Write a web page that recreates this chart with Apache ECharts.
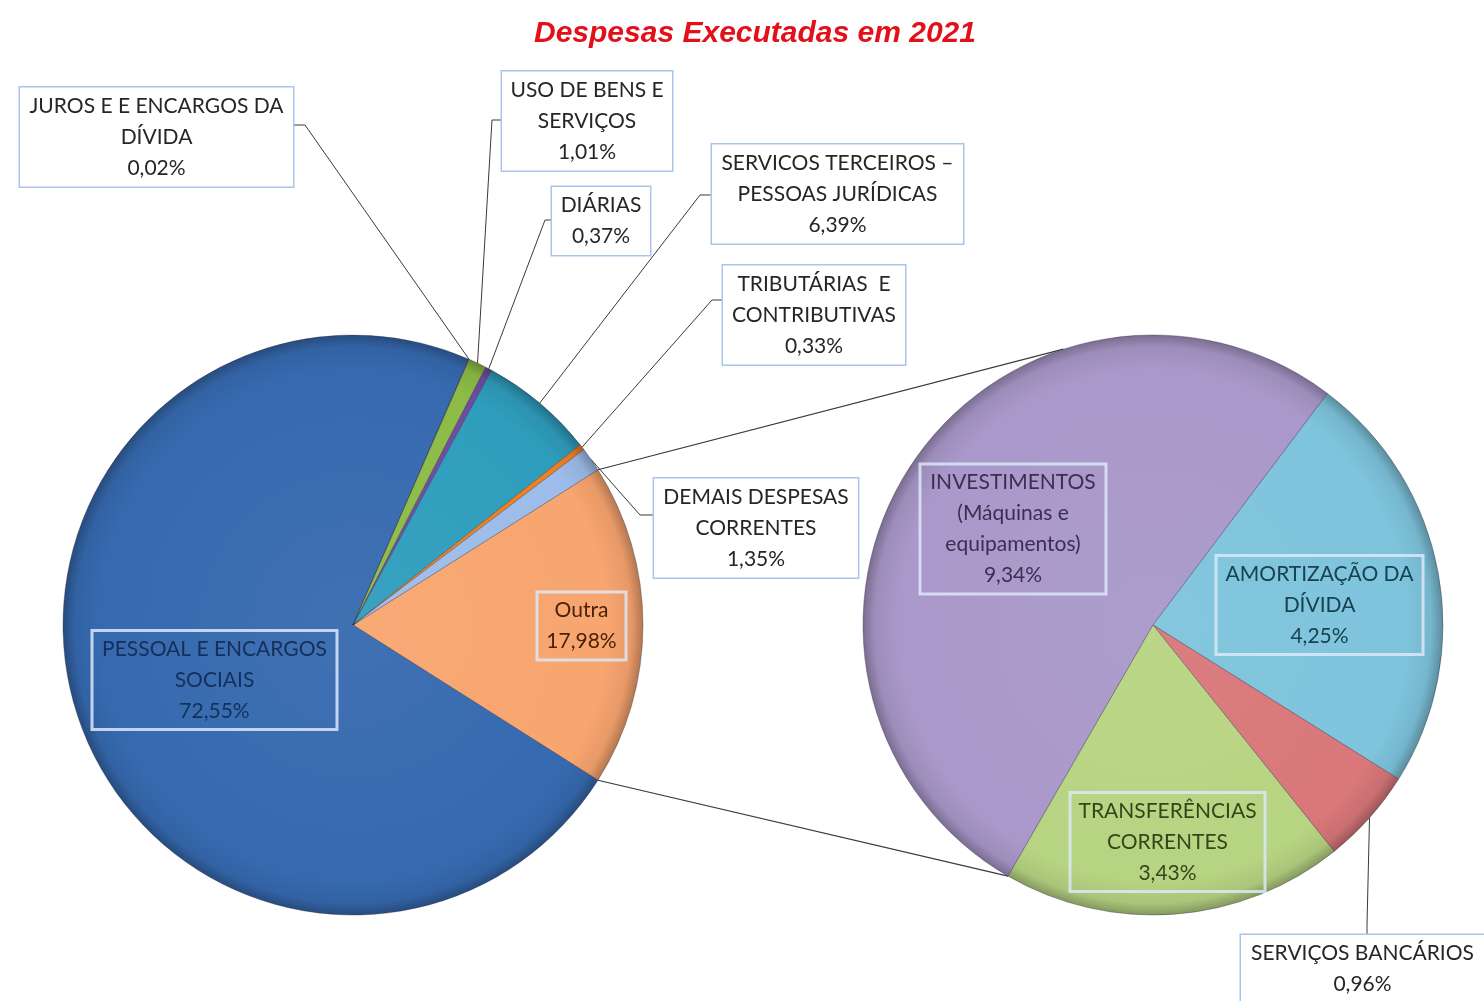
<!DOCTYPE html>
<html>
<head>
<meta charset="utf-8">
<title>Despesas Executadas em 2021</title>
<script src="https://cdn.jsdelivr.net/npm/echarts@6/dist/echarts.min.js"></script>
<style>
html, body { margin: 0; padding: 0; background: #fff; }
#main { width: 1484px; height: 1001px; }
</style>
</head>
<body>
<div id="main"></div>
<script>
// dados (% do total executado)
var leftNames = ['Outra', 'PESSOAL E ENCARGOS\nSOCIAIS', 'JUROS E E ENCARGOS DA\nDÍVIDA', 'USO DE BENS E\nSERVIÇOS',
    'DIÁRIAS', 'SERVICOS TERCEIROS –\nPESSOAS JURÍDICAS', 'TRIBUTÁRIAS  E\nCONTRIBUTIVAS', 'DEMAIS DESPESAS\nCORRENTES'];
var leftValues = [17.98, 72.55, 0.02, 1.01, 0.37, 6.39, 0.33, 1.35];

// detalhamento de "Outra"
var rightNames = ['INVESTIMENTOS\n(Máquinas e\nequipamentos)', 'AMORTIZAÇÃO DA\nDÍVIDA', 'SERVIÇOS BANCÁRIOS', 'TRANSFERÊNCIAS\nCORRENTES'];
var rightValues = [9.34, 4.25, 0.96, 3.43];

var leftColors = ['#f8a56f', '#3669af', '#c0504d', '#8cbc46', '#6e4c9f', '#2f9dbd', '#f07f1d', '#9dbce9'];
var rightColors = ['#a998c9', '#7ec4dc', '#d9777a', '#b7d482'];

var LEFT_C = [353, 625], RIGHT_C = [1153, 625], R = 290;
var PADX = 6, PADY = 3, TEXT_DY = 2;

// caixas dos rótulos: [esq, topo, larg, alt], linha guia: [x, y da caixa, x, y do cotovelo]
var leftBoxes = [
    {box: [537, 593, 89, 66], text: '#4a2208', inside: true},
    {box: [92, 630, 245, 100], text: '#14305a', inside: true},
    {box: [20, 87, 273, 100], lead: [293, 125, 305, 125]},
    {box: [502, 72, 170, 98], lead: [502, 120, 492, 120]},
    {box: [552, 187, 98, 68], lead: [552, 220, 545, 220]},
    {box: [712, 145, 251, 98], lead: [712, 195, 700, 195]},
    {box: [723, 265, 182, 100], lead: [723, 300, 712, 300]},
    {box: [654, 478, 204, 100], lead: [654, 515, 640, 515]}
];
var rightBoxes = [
    {box: [920, 464, 186, 130], text: '#3a2f52', inside: true},
    {box: [1216, 555, 207, 100], text: '#17424f', inside: true},
    {box: [1241, 935, 243, 68], lead: [1367, 935, 1367, 925]},
    {box: [1070, 793, 195, 98], text: '#33461a', inside: true}
];

function sum(a) {
    var s = 0;
    a.forEach(function (v) { s += v; });
    return s;
}
// "Outra" centrada no eixo horizontal
var leftStart = leftValues[0] / sum(leftValues) * 360 / 2;
var rightStart = 53 + rightValues[0] / sum(rightValues) * 360;

function midAngles(values, start) {
    var t = sum(values), a = start, out = [];
    values.forEach(function (v) {
        var s = v / t * 360;
        out.push(a - s / 2);
        a -= s;
    });
    return out;
}
function edgePoint(c, ang, r) {
    var rad = ang * Math.PI / 180;
    return [c[0] + r * Math.cos(rad), c[1] - r * Math.sin(rad)];
}
function shade(hex, f) {
    var n = parseInt(hex.slice(1), 16);
    var rgb = [(n >> 16) & 255, (n >> 8) & 255, n & 255].map(function (v) {
        v = f > 1 ? v + (255 - v) * (f - 1) : v * f;
        return Math.max(0, Math.min(255, Math.round(v)));
    });
    return 'rgb(' + rgb.join(',') + ')';
}
function fill(c, hex) {
    return {
        type: 'radial', x: c[0], y: c[1], r: R, global: true,
        colorStops: [
            {offset: 0, color: shade(hex, 1.05)},
            {offset: 0.88, color: hex},
            {offset: 0.96, color: shade(hex, 0.93)},
            {offset: 1, color: shade(hex, 0.72)}
        ]
    };
}
function pct(v) {
    return v.toFixed(2).replace('.', ',') + '%';
}

function buildData(names, values, colors, boxes, c) {
    return values.map(function (v, i) {
        var b = boxes[i];
        return {
            name: names[i],
            value: v,
            itemStyle: {color: fill(c, colors[i])},
            label: b.inside ? {
                color: b.text,
                backgroundColor: 'transparent',
                borderColor: 'rgba(220,232,248,0.85)'
            } : {},
            labelLine: {show: !b.inside}
        };
    });
}

function layoutFor(boxes, c, mids) {
    return function (p) {
        var b = boxes[p.dataIndex];
        var res = {
            x: b.box[0] + b.box[2] / 2,
            y: b.box[1] + b.box[3] / 2,
            align: 'center',
            verticalAlign: 'middle',
            width: b.box[2] - 2 * PADX
        };
        if (b.lead) {
            res.labelLinePoints = [edgePoint(c, mids[p.dataIndex], R), [b.lead[2], b.lead[3]], [b.lead[0], b.lead[1]]];
        }
        return res;
    };
}

var labelBase = {
    show: true,
    position: 'outside',
    formatter: function (p) { return p.name + '\n' + pct(p.value); },
    fontFamily: 'Lato',
    fontSize: 21,
    lineHeight: 31,
    color: '#262626',
    align: 'center',
    // texto um pouco abaixo do centro da caixa
    padding: [PADY + TEXT_DY, PADX, PADY - TEXT_DY, PADX],
    backgroundColor: '#fff',
    borderColor: '#a9c5ec',
    borderWidth: 1.5,
    overflow: 'none'
};

var leftMids = midAngles(leftValues, leftStart);
var rightMids = midAngles(rightValues, rightStart);

// linhas de ligação entre as pizzas
var topFrom = edgePoint(LEFT_C, leftStart, R);
var botFrom = edgePoint(LEFT_C, -leftStart, R);
var topTo = edgePoint(RIGHT_C, 108, R);
var botTo = edgePoint(RIGHT_C, rightStart, R);

var myChart = echarts.init(document.getElementById('main'));
var option = {
    animation: false,
    backgroundColor: '#fff',
    title: {
        text: 'Despesas Executadas em 2021',
        left: 529,
        top: 14,
        textStyle: {
            color: '#e3101a',
            fontFamily: 'Liberation Sans',
            fontStyle: 'italic',
            fontWeight: 'bold',
            fontSize: 30
        }
    },
    graphic: [
        {type: 'line', z: 0, shape: {x1: topFrom[0], y1: topFrom[1], x2: topTo[0], y2: topTo[1]},
            style: {stroke: '#3a3a3a', lineWidth: 1.2}},
        {type: 'line', z: 0, shape: {x1: botFrom[0], y1: botFrom[1], x2: botTo[0], y2: botTo[1]},
            style: {stroke: '#3a3a3a', lineWidth: 1.2}}
    ],
    series: [
        {
            name: 'Despesas',
            type: 'pie',
            center: LEFT_C,
            radius: [0, R],
            startAngle: leftStart,
            clockwise: true,
            avoidLabelOverlap: false,
            itemStyle: {borderColor: 'rgba(40,40,60,0.35)', borderWidth: 1},
            label: labelBase,
            labelLine: {show: true, lineStyle: {color: '#3a3a3a', width: 1}},
            labelLayout: layoutFor(leftBoxes, LEFT_C, leftMids),
            emphasis: {disabled: true},
            data: buildData(leftNames, leftValues, leftColors, leftBoxes, LEFT_C)
        },
        {
            name: 'Outra',
            type: 'pie',
            center: RIGHT_C,
            radius: [0, R],
            startAngle: rightStart,
            clockwise: true,
            avoidLabelOverlap: false,
            itemStyle: {borderColor: 'rgba(40,40,60,0.35)', borderWidth: 1},
            label: labelBase,
            labelLine: {show: true, lineStyle: {color: '#3a3a3a', width: 1}},
            labelLayout: layoutFor(rightBoxes, RIGHT_C, rightMids),
            emphasis: {disabled: true},
            data: buildData(rightNames, rightValues, rightColors, rightBoxes, RIGHT_C)
        }
    ]
};
myChart.setOption(option);
</script>
</body>
</html>
